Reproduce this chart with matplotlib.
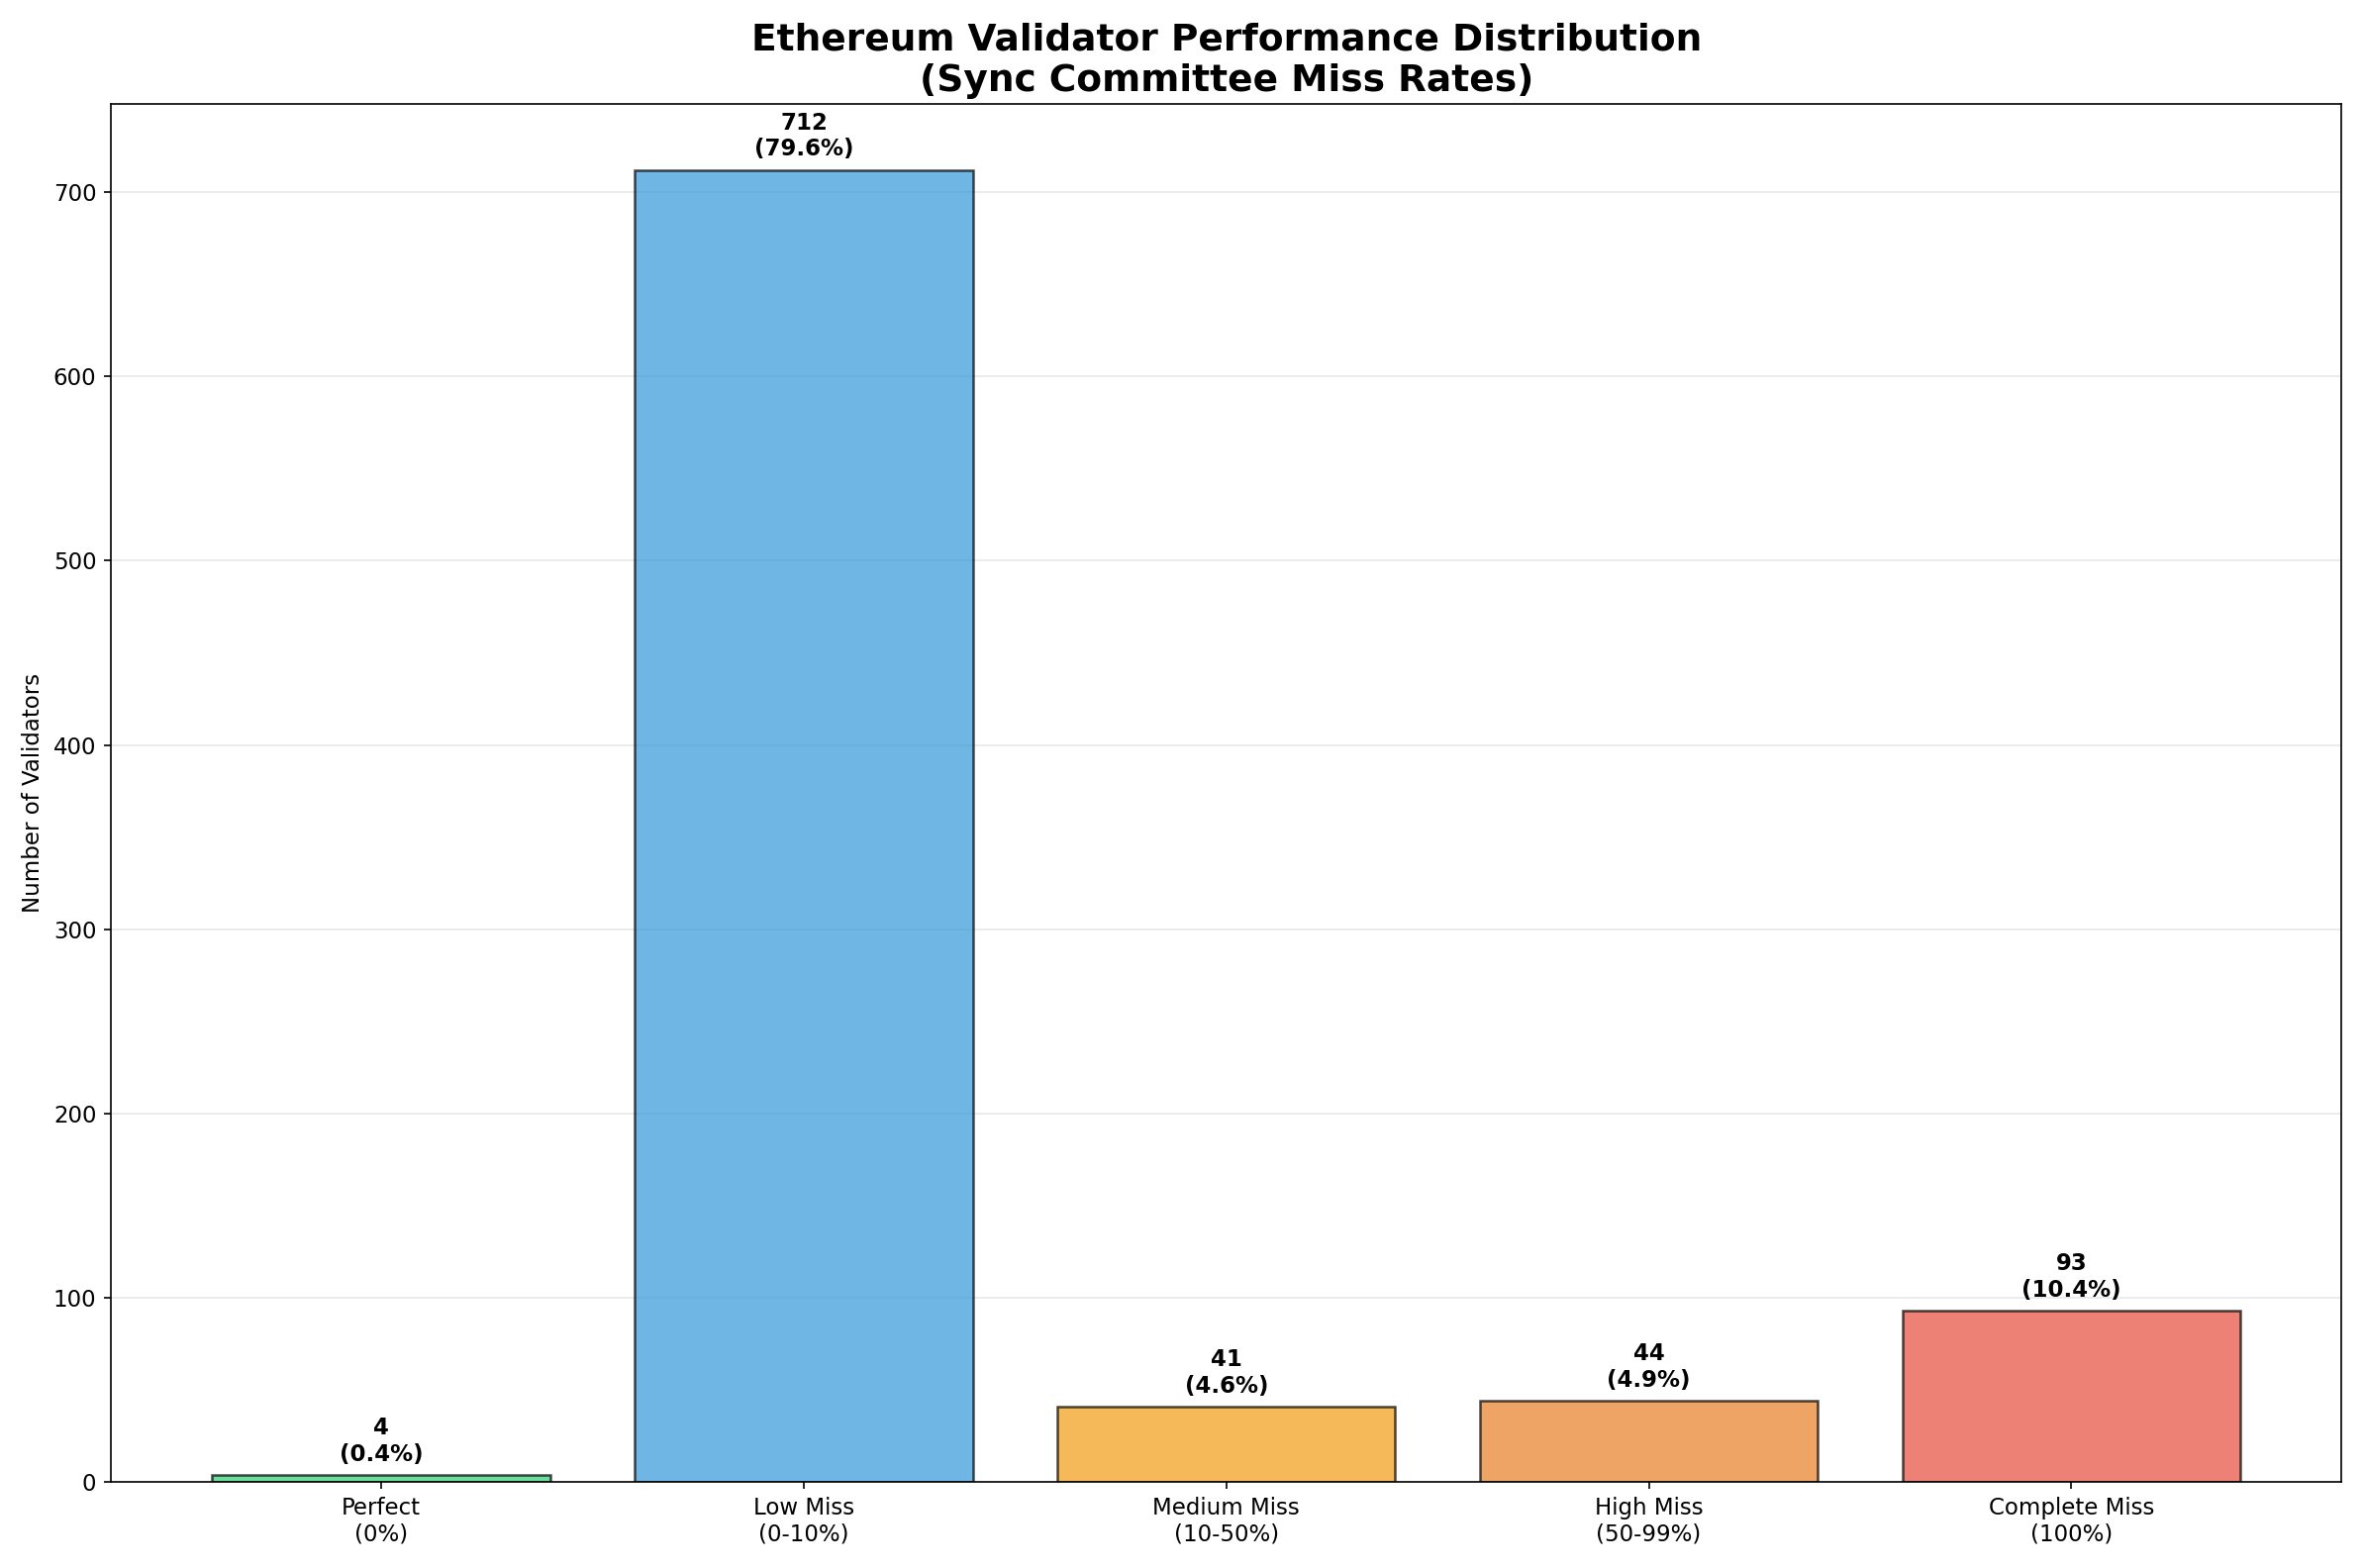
import matplotlib.pyplot as plt

categories = ['Perfect\n(0%)', 'Low Miss\n(0-10%)', 'Medium Miss\n(10-50%)',
              'High Miss\n(50-99%)', 'Complete Miss\n(100%)']
counts = [4, 712, 41, 44, 93]
colors = ['#2ecc71', '#3498db', '#f39c12', '#e67e22', '#e74c3c']

total = sum(counts)

fig, ax = plt.subplots(figsize=(15.92, 10.56), dpi=150)
bars = ax.bar(categories, counts, color=colors, alpha=0.7, edgecolor='black', linewidth=1.2)

for bar, c in zip(bars, counts):
    ax.text(bar.get_x() + bar.get_width() / 2, bar.get_height() + 5,
            f'{c}\n({c / total * 100:.1f}%)', ha='center', va='bottom',
            fontweight='bold', fontsize=11)

ax.set_ylabel('Number of Validators', fontsize=11)
ax.set_title('Ethereum Validator Performance Distribution\n(Sync Committee Miss Rates)',
             fontsize=18, fontweight='bold')
ax.set_ylim(0, 748)
ax.tick_params(labelsize=11)
ax.grid(axis='y', alpha=0.3)
ax.set_axisbelow(True)

plt.tight_layout()
plt.savefig('out.png')
